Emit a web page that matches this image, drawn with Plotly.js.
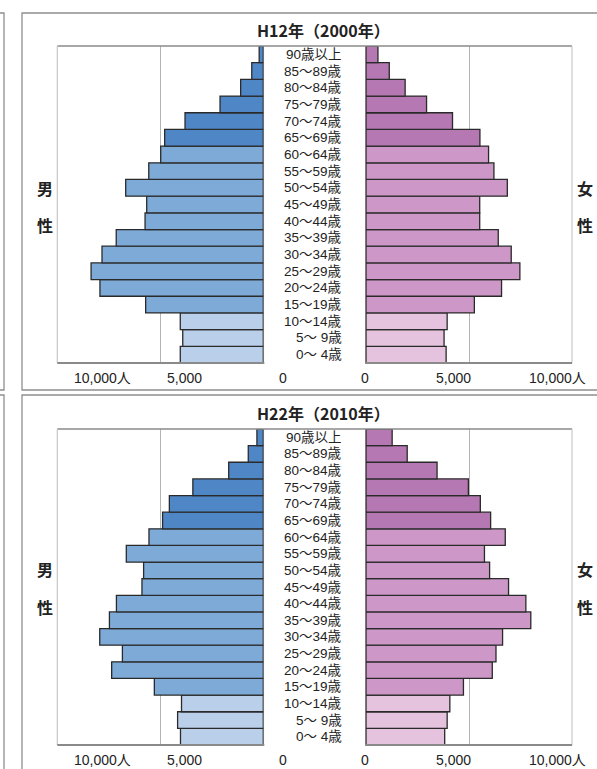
<!DOCTYPE html>
<html>
<head>
<meta charset="utf-8">
<script src="https://cdn.plot.ly/plotly-3.0.1.min.js"></script>
<style>
  html, body { margin: 0; padding: 0; background: #fff; }
  #chart { width: 597px; height: 769px; }
</style>
</head>
<body>
<div id="chart"></div>
<script>
// Age groups, youngest first (bottom of the pyramid)
const ages = ['0～ 4歳', '5～ 9歳', '10～14歳', '15～19歳', '20～24歳', '25～29歳',
  '30～34歳', '35～39歳', '40～44歳', '45～49歳', '50～54歳', '55～59歳',
  '60～64歳', '65～69歳', '70～74歳', '75～79歳', '80～84歳', '85～89歳', '90歳以上'];

// Population (persons) by age group
const male2000 = [4030, 3910, 4030, 5710, 7930, 8360, 7830, 7140, 5740, 5660,
  6680, 5560, 4980, 4790, 3800, 2100, 1100, 560, 200];
const female2000 = [3890, 3790, 3940, 5260, 6580, 7470, 7050, 6420, 5520, 5520,
  6860, 6210, 5950, 5530, 4200, 2940, 1900, 1130, 580];
const male2010 = [4020, 4160, 3970, 5290, 7360, 6840, 7940, 7470, 7130, 5890,
  5810, 6650, 5550, 4890, 4560, 3420, 1680, 730, 310];
const female2010 = [3820, 3940, 4070, 4730, 6130, 6310, 6630, 8000, 7760, 6920,
  6000, 5750, 6760, 6050, 5550, 4970, 3450, 2000, 1270];

const panelTitles = ['H12年（2000年）', 'H22年（2010年）'];
const leftTicks = ['10,000人', '5,000', '0'];
const rightTicks = ['0', '5,000', '10,000人'];
const tickValues = [10000, 5000, 0];
const rightTickValues = [0, 5000, 10000];

// Fill colours: child (0-14), working age (15-64), elderly (65+)
const maleColors = ['#B9CFEA', '#7EAAD7', '#4E86C6'];
const femaleColors = ['#E5C2DD', '#CD98C7', '#B578B2'];
const band = i => (i < 3 ? 0 : (i < 13 ? 1 : 2));

const W = 597, H = 769;
const px = v => v / W;
const py = v => 1 - v / H;

const FONT = '"Noto Sans CJK JP", "Noto Sans", sans-serif';
// Latin digits first, kanji fall back to the CJK face
const LABEL_FONT = '"Liberation Sans", "Noto Sans CJK JP", sans-serif';

// Panel geometry in pixels
const panels = [
  { top: 46, bottom: 363, titleY: 30, tickY: 378, sexY: [188, 225], box: [13, 390] },
  { top: 429, bottom: 745, titleY: 413, tickY: 760, sexY: [569, 607], box: [395, 790] }
];
const maleX = [57.3, 263.3];
const femaleX = [366, 572];
const labelRight = 343;

const series = [[male2000, female2000], [male2010, female2010]];

const traces = [];
const layout = {
  width: W, height: H,
  margin: { l: 0, r: 0, t: 0, b: 0 },
  paper_bgcolor: '#fff',
  plot_bgcolor: 'rgba(0,0,0,0)',
  showlegend: false,
  barmode: 'overlay',
  bargap: 0,
  font: { family: FONT, color: '#222' },
  shapes: [],
  annotations: []
};

panels.forEach((p, k) => {
  const xm = k === 0 ? 'x' : 'x3';
  const xf = k === 0 ? 'x2' : 'x4';
  const ya = k === 0 ? 'y' : 'y2';
  const [male, female] = series[k];

  traces.push({
    type: 'bar', orientation: 'h', y: ages, x: male,
    xaxis: xm, yaxis: ya,
    marker: { color: male.map((_, i) => maleColors[band(i)]), line: { color: '#2a2a2a', width: 1.3 } },
    hoverinfo: 'x+y'
  });
  traces.push({
    type: 'bar', orientation: 'h', y: ages, x: female,
    xaxis: xf, yaxis: ya,
    marker: { color: female.map((_, i) => femaleColors[band(i)]), line: { color: '#2a2a2a', width: 1.3 } },
    hoverinfo: 'x+y'
  });

  const yDom = [py(p.bottom), py(p.top)];
  const axisKey = a => (a === 'x' ? 'xaxis' : 'xaxis' + a.slice(1));
  const xCommon = {
    tickvals: [5000], showticklabels: false, ticks: '',
    showgrid: true, gridcolor: '#b4b4b4', gridwidth: 1,
    zeroline: false, showline: false, fixedrange: true
  };
  layout[axisKey(xm)] = Object.assign({}, xCommon, {
    domain: [px(maleX[0]), px(maleX[1])], range: [10000, 0], anchor: ya
  });
  layout[axisKey(xf)] = Object.assign({}, xCommon, {
    domain: [px(femaleX[0]), px(femaleX[1])], range: [0, 10000], anchor: ya
  });
  layout[ya === 'y' ? 'yaxis' : 'yaxis2'] = {
    domain: yDom, type: 'category', categoryarray: ages, categoryorder: 'array',
    range: [-0.5, ages.length - 0.5], showticklabels: false, ticks: '',
    showgrid: false, zeroline: false, showline: false, anchor: xm, fixedrange: true
  };

  // Outer panel frame (runs past the right and bottom page edges)
  layout.shapes.push({
    type: 'rect', xref: 'paper', yref: 'paper',
    x0: px(22), x1: px(610), y0: py(p.box[1]), y1: py(p.box[0]),
    line: { color: '#8e8e8e', width: 1.3 }, layer: 'below'
  });
  // Frame of the neighbouring panel on the left
  layout.shapes.push({
    type: 'rect', xref: 'paper', yref: 'paper',
    x0: px(-20), x1: px(4), y0: py(p.box[1]), y1: py(p.box[0]),
    line: { color: '#8e8e8e', width: 1.3 }, layer: 'below'
  });

  // Plot area borders
  const line = (x0, y0, x1, y1, color, width, layer) => layout.shapes.push({
    type: 'line', xref: 'paper', yref: 'paper',
    x0: px(x0), x1: px(x1), y0: py(y0), y1: py(y1),
    line: { color, width }, layer: layer || 'above'
  });
  line(maleX[0], p.top, femaleX[1], p.top, '#8a8a8a', 1.5);           // top edge
  line(maleX[0], p.top, maleX[0], p.bottom, '#c8c8c8', 1.2);           // male outer edge
  line(femaleX[1], p.top, femaleX[1], p.bottom, '#c8c8c8', 1.2);       // female outer edge
  line(maleX[1], p.top, maleX[1], p.bottom, '#8a8a8a', 1.5, 'below');  // male zero
  line(femaleX[0], p.top, femaleX[0], p.bottom, '#7a7a7a', 2, 'below');// female zero
  line(maleX[0], p.bottom, maleX[1] + 1, p.bottom, '#8a8a8a', 2);      // male baseline
  line(femaleX[0] - 1, p.bottom, femaleX[1], p.bottom, '#8a8a8a', 2);  // female baseline

  // Title
  layout.annotations.push({
    xref: 'paper', yref: 'paper', x: px(323), y: py(p.titleY),
    text: '<b>' + panelTitles[k] + '</b>', showarrow: false,
    xanchor: 'center', yanchor: 'middle',
    font: { family: FONT, size: 16, color: '#222' }
  });

  // Age-group labels between the two halves
  ages.forEach(a => layout.annotations.push({
    xref: 'paper', yref: ya, x: px(labelRight), y: a,
    text: a, showarrow: false, xanchor: 'right', yanchor: 'middle',
    height: 15, valign: 'middle', borderpad: 0,
    font: { family: LABEL_FONT, size: 13.5, color: '#222' }
  }));

  // Axis value labels
  const tickShiftL = [45, 24, 20];
  const tickShiftR = [-1, -16, -15];
  const tickFont = { family: LABEL_FONT, size: 14, color: '#222' };
  leftTicks.forEach((t, i) => layout.annotations.push({
    xref: xm, yref: 'paper', x: tickValues[i], y: py(p.tickY),
    xshift: tickShiftL[i], text: t, showarrow: false,
    xanchor: 'center', yanchor: 'middle', height: 16, valign: 'middle', borderpad: 0,
    font: tickFont
  }));
  rightTicks.forEach((t, i) => layout.annotations.push({
    xref: xf, yref: 'paper', x: rightTickValues[i], y: py(p.tickY),
    xshift: tickShiftR[i], text: t, showarrow: false,
    xanchor: 'center', yanchor: 'middle', height: 16, valign: 'middle', borderpad: 0,
    font: tickFont
  }));

  // Sex labels
  [['男', 45], ['女', 585]].forEach(([ch, x]) => {
    layout.annotations.push({
      xref: 'paper', yref: 'paper', x: px(x), y: py(p.sexY[0]),
      text: '<b>' + ch + '</b>', showarrow: false,
      xanchor: 'center', yanchor: 'middle', font: { family: FONT, size: 16, color: '#222' }
    });
    layout.annotations.push({
      xref: 'paper', yref: 'paper', x: px(x), y: py(p.sexY[1]),
      text: '<b>性</b>', showarrow: false,
      xanchor: 'center', yanchor: 'middle', font: { family: FONT, size: 16, color: '#222' }
    });
  });
});

Plotly.newPlot('chart', traces, layout, { staticPlot: true, displayModeBar: false });
</script>
</body>
</html>
